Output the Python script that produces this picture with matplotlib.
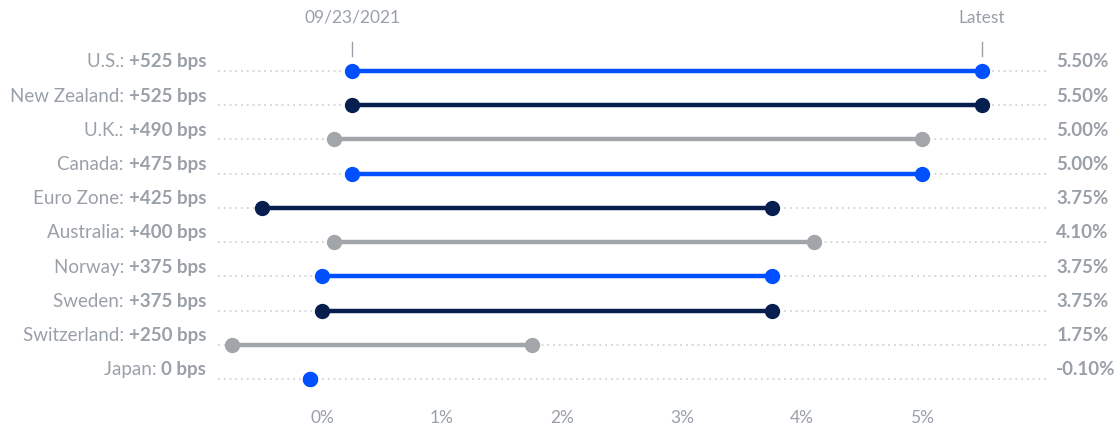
import numpy as np
import matplotlib.pyplot as plt

# policy rates, start (09/23/2021) vs latest
countries = ['U.S.', 'New Zealand', 'U.K.', 'Canada', 'Euro Zone',
             'Australia', 'Norway', 'Sweden', 'Switzerland', 'Japan']
start = [0.25, 0.25, 0.10, 0.25, -0.50, 0.10, 0.00, 0.00, -0.75, -0.10]
latest = [5.50, 5.50, 5.00, 5.00, 3.75, 4.10, 3.75, 3.75, 1.75, -0.10]
change_bps = [525, 525, 490, 475, 425, 400, 375, 375, 250, 0]
x_ticks = [0, 1, 2, 3, 4, 5]

blue = '#0050ff'
navy = '#061f4f'
gray = '#a2a6ab'
text_gray = '#9aa0a8'
colors = [blue, navy, gray] * 3 + [blue]

plt.rcParams['font.family'] = ['Lato', 'DejaVu Sans']

fig = plt.figure(figsize=(11.19, 4.26), dpi=100)
ax = fig.add_axes([218 / 1119, 26 / 426, 830 / 1119, 360 / 426])
ax.set_xlim(-0.867, 6.05)
ax.set_ylim(9.614, -0.906)

rows = np.arange(len(countries))
for i in rows:
    ax.plot(ax.get_xlim(), [i, i], color='#d0d3d6', lw=1.3, ls=(0, (1, 2.2)), zorder=1)
    ax.plot([start[i], latest[i]], [i, i], color=colors[i], lw=3.2,
            solid_capstyle='butt', zorder=2)
    ax.plot([start[i], latest[i]], [i, i], 'o', color=colors[i], ms=10, zorder=3)

    sign = '+' if change_bps[i] > 0 else ''
    bold = ax.annotate(f'{sign}{change_bps[i]} bps', xy=(0, i),
                       xycoords=('axes fraction', 'data'),
                       xytext=(-8.5, 0.5), textcoords='offset points',
                       ha='right', va='bottom', fontsize=13.5,
                       fontweight='bold', color=text_gray)
    ax.annotate(f'{countries[i]}: ', xy=(0, 0), xycoords=bold,
                ha='right', va='bottom', fontsize=13.5, color=text_gray)
    ax.annotate(f'{latest[i]:.2f}%', xy=(1, i),
                xycoords=('axes fraction', 'data'),
                xytext=(6, 0.5), textcoords='offset points',
                ha='left', va='bottom', fontsize=13.5,
                fontweight='bold', color=text_gray)

# column headers
for xv, label in [(start[0], '09/23/2021'), (latest[0], 'Latest')]:
    ax.plot([xv, xv], [-0.85, -0.45], color=text_gray, lw=1, clip_on=False)
    ax.text(xv, -1.55, label, ha='center', va='center', fontsize=12.5,
            color=text_gray, clip_on=False)

ax.set_xticks(x_ticks)
ax.set_xticklabels([f'{t}%' for t in x_ticks])
ax.tick_params(axis='x', length=0, labelsize=12.5, colors=text_gray, pad=7)
ax.set_yticks([])
for s in ax.spines.values():
    s.set_visible(False)

fig.savefig('out.png', dpi=100)
